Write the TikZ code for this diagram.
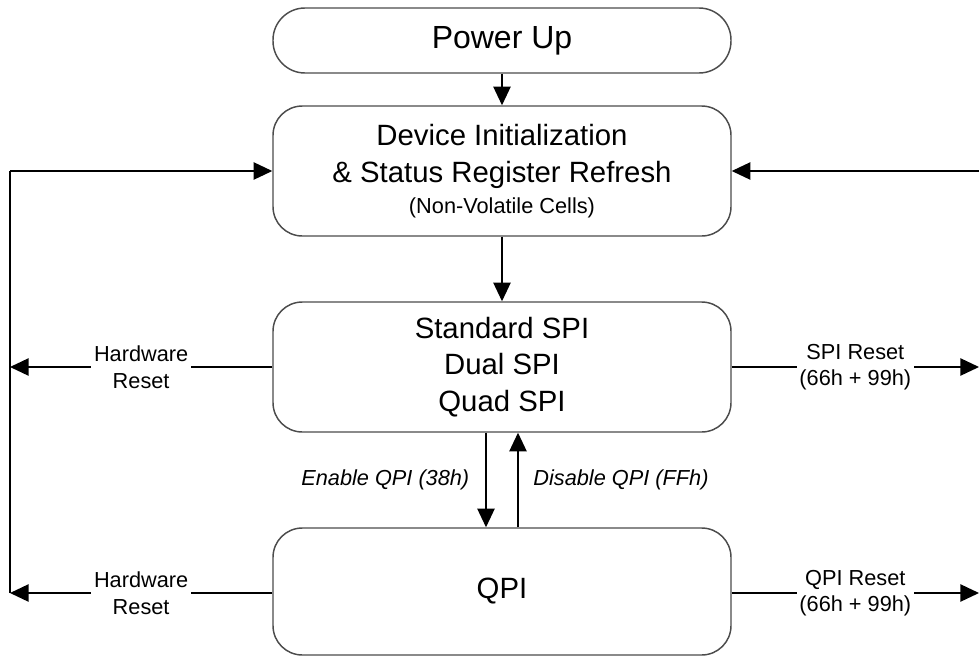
\documentclass[tikz,border=0pt]{standalone}
\usepackage{fontspec}
\setmainfont{Liberation Sans}
\usetikzlibrary{arrows.meta,calc}
\begin{document}
\begin{tikzpicture}[x=0.75pt,y=-0.75pt,
  box/.style={draw=black!70,line width=1.1pt,rounded corners=22pt,minimum width=343.5pt,minimum height=97.5pt,align=center,inner sep=0pt,font=\fontsize{22}{27.5}\selectfont},
  conn/.style={line width=1.1pt,-{Triangle[length=14pt,width=13pt]}},
  plain/.style={line width=1.1pt},
  lbl/.style={fill=white,align=center,inner sep=2pt,font=\fontsize{16.3}{20}\selectfont},
  ilbl/.style={align=center,inner sep=0pt,font=\fontsize{16.3}{20}\selectfont\itshape}]
\useasboundingbox (0,0) rectangle (979,657);
\node[box,minimum height=48.75pt,rounded corners=24pt,font=\fontsize{24}{28}\selectfont] (pu) at (502,40.5) {Power Up};
\node[box] (init) at (502,171) {Device Initialization\\\&\ Status Register Refresh\\[-4pt]{\fontsize{16.3}{20}\selectfont (Non-Volatile Cells)}};
\node[box] (spi) at (502,367) {Standard SPI\\Dual SPI\\Quad SPI};
\node[box,minimum height=95.25pt] (qpi) at (502,591.5) {QPI};
\coordinate (lt) at (10,171);
\coordinate (lb) at (10,593);
\coordinate (rx) at (979,171);
\coordinate (re) at (979,367);
\draw[conn] (pu) -- (init);
\draw[conn] (init) -- (spi);
\draw[conn] ([xshift=-12pt]spi.south) -- node[ilbl,left=12pt]{Enable QPI (38h)} ([xshift=-12pt]qpi.north);
\draw[conn] ([xshift=12pt]qpi.north) -- node[ilbl,right=11pt]{Disable QPI (FFh)} ([xshift=12pt]spi.south);
\draw[plain] (lb) -- (lt);
\draw[conn] (lt) -- (init.west);
\draw[conn] (rx) -- (init.east);
\draw[conn] (spi.west) -- node[lbl]{Hardware\\Reset} (spi.west -| lt);
\draw[conn] (qpi.west |- lb) -- node[lbl]{Hardware\\Reset} (lb);
\draw[conn] (spi.east) -- node[lbl]{SPI Reset\\(66h + 99h)} (spi.east -| re);
\draw[conn] (qpi.east |- lb) -- node[lbl]{QPI Reset\\(66h + 99h)} (lb -| re);
\end{tikzpicture}
\end{document}
